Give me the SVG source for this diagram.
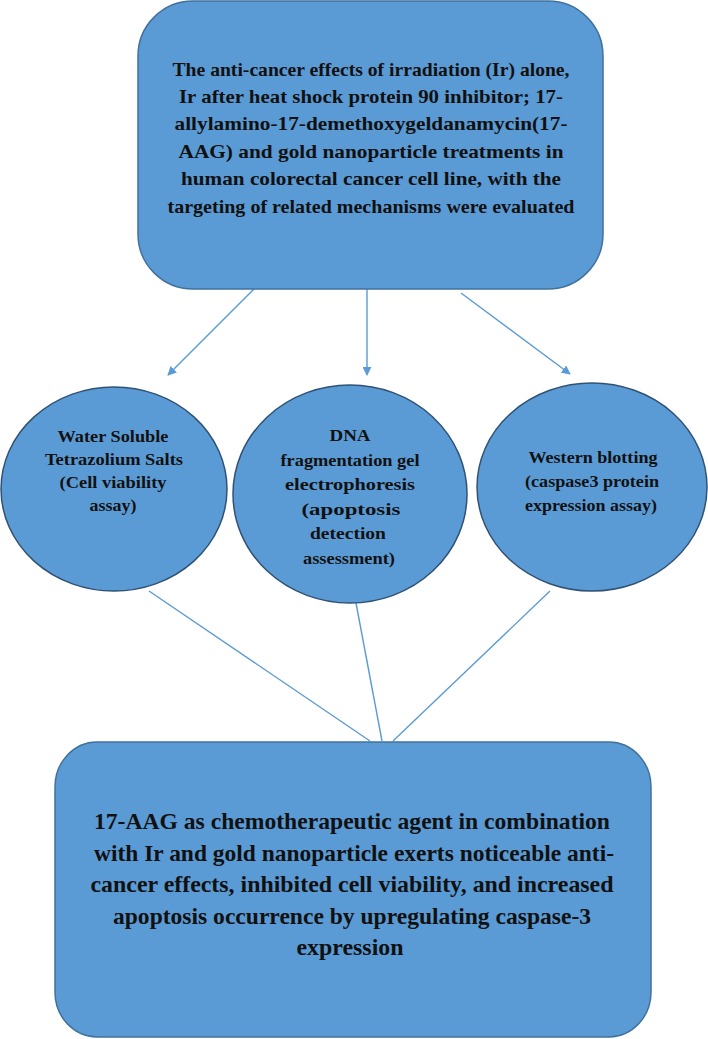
<svg xmlns="http://www.w3.org/2000/svg" width="708" height="1039" viewBox="0 0 708 1039">
<style>
.box{fill:#5b9bd5;stroke:#41719c;stroke-width:1.5}
.ell{fill:#5b9bd5;stroke:#2f5275;stroke-width:1.5}
.con{stroke:#5b9bd5;stroke-width:1.4;fill:none}
.t{font-family:"Liberation Serif","DejaVu Serif",serif;font-weight:bold;fill:#111;text-anchor:middle}
.t1{font-size:19px}
.t2{font-size:17.5px}
.t3{font-size:24px}
</style>
<defs>
<marker id="ah" viewBox="0 0 10 10" refX="9" refY="5" markerWidth="9" markerHeight="9" markerUnits="userSpaceOnUse" orient="auto">
<path d="M0,0 L10,5 L0,10 z" fill="#5b9bd5"/>
</marker>
</defs>
<rect width="708" height="1039" fill="#fff"/>
<g id="connectors">
<line class="con" x1="254" y1="289" x2="168" y2="375" marker-end="url(#ah)"/>
<line class="con" x1="367" y1="289" x2="367" y2="375" marker-end="url(#ah)"/>
<line class="con" x1="461" y1="293" x2="570" y2="374" marker-end="url(#ah)"/>
<line class="con" x1="149" y1="591" x2="370" y2="741"/>
<line class="con" x1="356" y1="603" x2="382" y2="741"/>
<line class="con" x1="550" y1="591" x2="393" y2="741"/>
</g>
<g id="node-top">
<rect class="box" x="138" y="1" width="465" height="288" rx="55" ry="55"/>
<text class="t t1" x="371" y="76" textLength="397" lengthAdjust="spacingAndGlyphs">The anti-cancer effects of irradiation (Ir) alone,</text>
<text class="t t1" x="371" y="103" textLength="384" lengthAdjust="spacingAndGlyphs">Ir after heat shock protein 90  inhibitor; 17-</text>
<text class="t t1" x="371" y="130" textLength="393" lengthAdjust="spacingAndGlyphs">allylamino-17-demethoxygeldanamycin(17-</text>
<text class="t t1" x="371" y="158" textLength="385" lengthAdjust="spacingAndGlyphs">AAG) and gold nanoparticle  treatments in</text>
<text class="t t1" x="371" y="185" textLength="380" lengthAdjust="spacingAndGlyphs">human colorectal cancer cell line, with the</text>
<text class="t t1" x="371" y="213" textLength="407" lengthAdjust="spacingAndGlyphs">targeting of related mechanisms were evaluated</text>
</g>
<g id="node-wst">
<ellipse class="ell" cx="114" cy="489" rx="113" ry="102"/>
<text class="t t2" x="113" y="442" textLength="111" lengthAdjust="spacingAndGlyphs">Water Soluble</text>
<text class="t t2" x="114" y="465" textLength="138" lengthAdjust="spacingAndGlyphs">Tetrazolium Salts</text>
<text class="t t2" x="113" y="488" textLength="107" lengthAdjust="spacingAndGlyphs">(Cell viability</text>
<text class="t t2" x="113" y="511" textLength="47" lengthAdjust="spacingAndGlyphs">assay)</text>
</g>
<g id="node-dna">
<ellipse class="ell" cx="350" cy="494" rx="117" ry="109"/>
<text class="t t2" x="350" y="441" textLength="41" lengthAdjust="spacingAndGlyphs">DNA</text>
<text class="t t2" x="350" y="466" textLength="139" lengthAdjust="spacingAndGlyphs">fragmentation gel</text>
<text class="t t2" x="350" y="490" textLength="130" lengthAdjust="spacingAndGlyphs">electrophoresis</text>
<text class="t t2" x="351" y="515" textLength="99" lengthAdjust="spacingAndGlyphs">(apoptosis</text>
<text class="t t2" x="348" y="539" textLength="76" lengthAdjust="spacingAndGlyphs">detection</text>
<text class="t t2" x="349" y="564" textLength="92" lengthAdjust="spacingAndGlyphs">assessment)</text>
</g>
<g id="node-wb">
<ellipse class="ell" cx="592" cy="487" rx="115" ry="104"/>
<text class="t t2" x="593" y="463" textLength="129" lengthAdjust="spacingAndGlyphs">Western blotting</text>
<text class="t t2" x="592" y="487" textLength="134" lengthAdjust="spacingAndGlyphs">(caspase3 protein</text>
<text class="t t2" x="591" y="511" textLength="132" lengthAdjust="spacingAndGlyphs">expression assay)</text>
</g>
<g id="node-bottom">
<rect class="box" x="55" y="742" width="596" height="295" rx="42" ry="45"/>
<text class="t t3" x="352" y="829" textLength="516" lengthAdjust="spacingAndGlyphs">17-AAG as chemotherapeutic agent in combination</text>
<text class="t t3" x="354" y="861" textLength="520" lengthAdjust="spacingAndGlyphs">with Ir and gold nanoparticle exerts noticeable anti-</text>
<text class="t t3" x="352" y="892" textLength="523" lengthAdjust="spacingAndGlyphs">cancer effects, inhibited cell viability, and increased</text>
<text class="t t3" x="352" y="924" textLength="478" lengthAdjust="spacingAndGlyphs">apoptosis occurrence by upregulating caspase-3</text>
<text class="t t3" x="350" y="955" textLength="107" lengthAdjust="spacingAndGlyphs">expression</text>
</g>
</svg>
